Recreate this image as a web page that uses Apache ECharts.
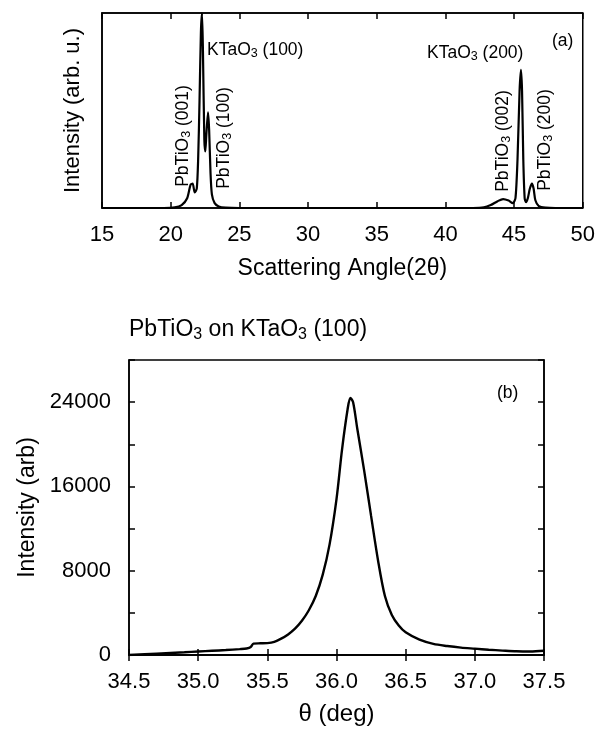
<!DOCTYPE html>
<html>
<head>
<meta charset="utf-8">
<script src="https://cdn.jsdelivr.net/npm/echarts@6/dist/echarts.min.js"></script>
<style>
  html, body { margin: 0; padding: 0; background: #fff; }
  #main { width: 598px; height: 730px; }
</style>
</head>
<body>
<div id="main"></div>
<script>
// (a) 2theta scan, intensity in arbitrary units (0..100 of frame height)
let scanAngle = [15, 19.5, 20.3, 20.8, 21.2, 21.45, 21.6, 21.75, 21.9, 22.0, 22.1, 22.2, 22.28, 22.35, 22.45, 22.52,
    22.6, 22.72, 22.8, 22.9, 23.0, 23.2, 23.5, 24, 25, 42, 42.8, 43.3, 43.8, 44.2, 44.6, 44.9, 45.1, 45.25, 45.4,
    45.5, 45.58, 45.67, 45.77, 45.87, 46.0, 46.15, 46.3, 46.42, 46.55, 46.8, 47.3, 48, 50];
let scanIntensity = [0, 0, 0.3, 1.5, 5, 12, 12.5, 8, 10, 25, 55, 90, 100, 80, 35, 29,
    38, 49, 40, 18, 7, 2.5, 0.8, 0.2, 0, 0, 0.3, 1.5, 3.5, 4.6, 3.8, 2.5, 5, 25, 60,
    70.8, 60, 25, 5, 3, 5, 10, 12.5, 10, 4, 1, 0.2, 0, 0];

// (b) theta rocking curve
let thetaDeg = [34.5, 34.7, 34.9, 35.0, 35.1, 35.2, 35.3, 35.35, 35.38, 35.40, 35.45, 35.5, 35.55, 35.6, 35.65,
    35.7, 35.75, 35.8, 35.85, 35.9, 35.95, 36.0, 36.04, 36.08, 36.1, 36.12, 36.15, 36.2, 36.25, 36.3, 36.35,
    36.4, 36.45, 36.5, 36.6, 36.7, 36.8, 36.9, 37.0, 37.1, 37.2, 37.3, 37.4, 37.5];
let thetaCounts = [0, 130, 260, 330, 400, 470, 560, 620, 750, 1080, 1110, 1130, 1250, 1550, 1950,
    2500, 3250, 4250, 5600, 7600, 10500, 14800, 19500, 23300, 24400, 24000, 21500, 17500, 13200, 9000, 5600,
    3800, 2800, 2150, 1450, 1050, 850, 700, 600, 500, 420, 350, 330, 400];

let font = 'Liberation Sans, Arial, sans-serif';
let sub = { fontSize: 12.5, fontFamily: font, color: '#000', padding: [8, 0, 0, 0] };
let nor = { fontSize: 17.5, fontFamily: font, color: '#000' };

let inTick = (show) => ({ show, inside: true, length: 6, lineStyle: { color: '#000', width: 1.5 } });

let chart = echarts.init(document.getElementById('main'), null, { renderer: 'canvas' });

let option = {
    backgroundColor: '#fff',
    animation: false,
    title: {
        text: '{n|PbTiO}{s|3}{n| on KTaO}{s|3}{n| (100)}',
        left: 124,
        top: 311,
        textStyle: {
            rich: {
                n: { fontSize: 23, fontWeight: 'normal', fontFamily: font, color: '#000' },
                s: { fontSize: 16, fontWeight: 'normal', fontFamily: font, color: '#000', padding: [11, 0, 0, 0] }
            }
        }
    },
    grid: [
        { left: 102, top: 13, width: 481, height: 195, show: true, borderColor: '#000', borderWidth: 1.5 },
        { left: 129, top: 360, width: 415, height: 295, show: true, borderColor: '#000', borderWidth: 1.5 }
    ],
    xAxis: [
        {
            gridIndex: 0, type: 'value', min: 15, max: 50, interval: 5,
            name: 'Scattering Angle(2\u03b8)', nameLocation: 'middle', nameGap: 49,
            nameTextStyle: { fontSize: 23, fontFamily: font, color: '#000' },
            axisLine: { lineStyle: { color: '#000', width: 1.5 } },
            axisTick: inTick(true),
            axisLabel: { fontSize: 22, fontFamily: font, color: '#000', margin: 16 },
            splitLine: { show: false }
        },
        {
            gridIndex: 0, type: 'value', min: 15, max: 50, interval: 5, position: 'top',
            axisLine: { lineStyle: { color: '#000', width: 1.5 } },
            axisTick: inTick(true), axisLabel: { show: false }, splitLine: { show: false }
        },
        {
            gridIndex: 1, type: 'value', min: 34.5, max: 37.5, interval: 0.5,
            name: '\u03b8 (deg)', nameLocation: 'middle', nameGap: 47,
            nameTextStyle: { fontSize: 24, fontFamily: font, color: '#000' },
            axisLine: { lineStyle: { color: '#000', width: 1.5 } },
            axisTick: inTick(true),
            axisLabel: { fontSize: 22, fontFamily: font, color: '#000', margin: 16, formatter: v => v.toFixed(1) },
            splitLine: { show: false }
        },
        {
            gridIndex: 1, type: 'value', min: 34.5, max: 37.5, interval: 0.5, position: 'top',
            axisLine: { lineStyle: { color: '#000', width: 1.5 } },
            axisTick: inTick(true), axisLabel: { show: false }, splitLine: { show: false }
        }
    ],
    yAxis: [
        {
            gridIndex: 0, type: 'value', min: 0, max: 100,
            name: 'Intensity (arb. u.)', nameLocation: 'middle', nameGap: 18,
            nameTextStyle: { fontSize: 22, fontFamily: font, color: '#000' },
            axisLine: { lineStyle: { color: '#000', width: 1.5 } },
            axisTick: { show: false }, axisLabel: { show: false }, splitLine: { show: false }
        },
        {
            gridIndex: 1, type: 'value', min: 0, max: 28000, interval: 4000,
            name: 'Intensity (arb)', nameLocation: 'middle', nameGap: 70,
            nameTextStyle: { fontSize: 23, fontFamily: font, color: '#000' },
            axisLine: { lineStyle: { color: '#000', width: 1.5 } },
            axisTick: inTick(true),
            axisLabel: {
                fontSize: 22, fontFamily: font, color: '#000', margin: 18,
                formatter: v => (v % 8000 === 0 && v < 28000) ? String(v) : ''
            },
            splitLine: { show: false }
        },
        {
            gridIndex: 1, type: 'value', min: 0, max: 28000, interval: 4000, position: 'right',
            axisLine: { lineStyle: { color: '#000', width: 1.5 } },
            axisTick: inTick(true), axisLabel: { show: false }, splitLine: { show: false }
        }
    ],
    series: [
        {
            type: 'line', xAxisIndex: 0, yAxisIndex: 0, showSymbol: false, smooth: 0.25,
            lineStyle: { color: '#000', width: 2.2 },
            data: scanAngle.map((a, i) => [a, scanIntensity[i]])
        },
        {
            type: 'line', xAxisIndex: 2, yAxisIndex: 1, showSymbol: false, smooth: 0.3,
            lineStyle: { color: '#000', width: 2.4 },
            data: thetaDeg.map((t, i) => [t, thetaCounts[i]])
        }
    ],
    graphic: [
        { type: 'text', x: 207, y: 50, style: { text: '{n|KTaO}{s|3}{n| (100)}', rich: { n: nor, s: sub }, verticalAlign: 'middle' } },
        { type: 'text', x: 427, y: 53, style: { text: '{n|KTaO}{s|3}{n| (200)}', rich: { n: nor, s: sub }, verticalAlign: 'middle' } },
        { type: 'text', x: 552, y: 41, style: { text: '(a)', font: '17.5px ' + font, fill: '#000', verticalAlign: 'middle' } },
        { type: 'text', x: 497, y: 393, style: { text: '(b)', font: '17.5px ' + font, fill: '#000', verticalAlign: 'middle' } },
        { type: 'text', x: 183, y: 136, rotation: Math.PI / 2, style: { text: '{n|PbTiO}{s|3}{n| (001)}', rich: { n: nor, s: sub }, align: 'center', verticalAlign: 'middle' } },
        { type: 'text', x: 224, y: 138, rotation: Math.PI / 2, style: { text: '{n|PbTiO}{s|3}{n| (100)}', rich: { n: nor, s: sub }, align: 'center', verticalAlign: 'middle' } },
        { type: 'text', x: 503, y: 141, rotation: Math.PI / 2, style: { text: '{n|PbTiO}{s|3}{n| (002)}', rich: { n: nor, s: sub }, align: 'center', verticalAlign: 'middle' } },
        { type: 'text', x: 545, y: 140, rotation: Math.PI / 2, style: { text: '{n|PbTiO}{s|3}{n| (200)}', rich: { n: nor, s: sub }, align: 'center', verticalAlign: 'middle' } }
    ]
};

chart.setOption(option);
</script>
</body>
</html>
